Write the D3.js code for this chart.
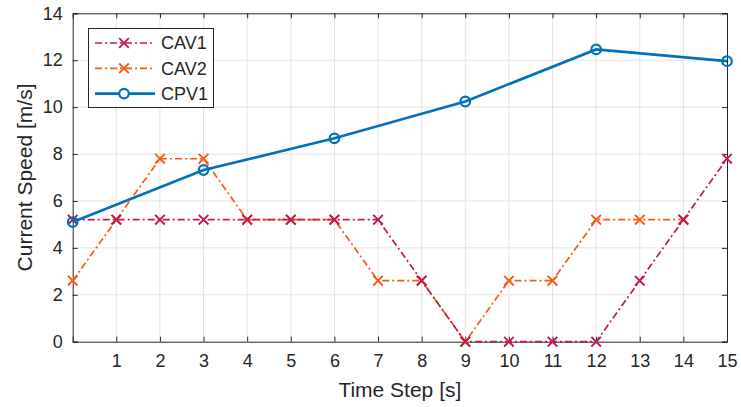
<!DOCTYPE html>
<html><head><meta charset="utf-8">
<script src="https://cdn.jsdelivr.net/npm/d3@7"></script>
<style>body{margin:0;background:#fff}svg{display:block}text{font-family:"Liberation Sans",Arial,sans-serif;fill:#262626}</style>
</head><body><svg id="c" width="741" height="407"></svg>
<script>
const steps = d3.range(0,16);
const xTicks = [1,2,3,4,5,6,7,8,9,10,11,12,13,14,15];
const yTicks = [0,2,4,6,8,10,12,14];
const cav1T = [0,1,2,3,4,5,6,7,8,9,10,11,12,13,14,15];
const cav1V = [5.2,5.2,5.2,5.2,5.2,5.2,5.2,5.2,2.6,0,0,0,0,2.6,5.2,7.8];
const cav2T = [0,1,2,3,4,5,6,7,8,9,10,11,12,13,14];
const cav2V = [2.6,5.2,7.8,7.8,5.2,5.2,5.2,2.6,2.6,0,2.6,2.6,5.2,5.2,5.2];
const cpv1T = [0,3,6,9,12,15];
const cpv1V = [5.1,7.32,8.67,10.24,12.46,11.96];
const seriesNames = ["CAV1","CAV2","CPV1"];

const svg = d3.select("#c");
const L=72.7,R=727,T=13.3,B=341.7;
const x = d3.scaleLinear().domain([0,15]).range([L,R]);
const y = d3.scaleLinear().domain([0,14]).range([B,T]);
const g = svg.append("g");
// grid
g.append("g").selectAll("line").data(steps.slice(1,15)).join("line")
 .attr("x1",d=>x(d)).attr("x2",d=>x(d)).attr("y1",T).attr("y2",B)
 .attr("stroke","#e3e3e3").attr("stroke-width",1);
g.append("g").selectAll("line").data(yTicks.slice(1,7)).join("line")
 .attr("y1",d=>y(d)).attr("y2",d=>y(d)).attr("x1",L).attr("x2",R)
 .attr("stroke","#e3e3e3").attr("stroke-width",1);
// axes
const ax = d3.axisBottom(x).tickValues(xTicks).tickSize(-5).tickPadding(13).tickFormat(d3.format("d"));
const axg = g.append("g").attr("transform",`translate(0,${B})`).call(ax);
const axt = g.append("g").attr("transform",`translate(0,${T})`).call(d3.axisTop(x).tickValues(xTicks).tickSize(-5).tickFormat(""));
const ay = d3.axisLeft(y).tickValues(yTicks).tickSize(-5).tickPadding(10).tickFormat(d3.format("d"));
const ayg = g.append("g").attr("transform",`translate(${L},0)`).call(ay);
const ayr = g.append("g").attr("transform",`translate(${R},0)`).call(d3.axisRight(y).tickValues(yTicks).tickSize(-5).tickFormat(""));
[axg,axt,ayg,ayr].forEach(a=>{
  a.select(".domain").attr("stroke","#262626").attr("stroke-width",1);
  a.selectAll(".tick line").attr("stroke","#262626");
  a.selectAll("text").style("font-size","18px").attr("fill","#262626");
});
axg.selectAll("text").attr("dy","0.71em");
g.append("text").attr("x",(L+R)/2).attr("y",397).attr("text-anchor","middle").style("font-size","21px").text("Time Step [s]");
g.append("text").attr("transform",`translate(32,${(T+B)/2}) rotate(-90)`).attr("text-anchor","middle").style("font-size","21px").text("Current Speed [m/s]");

const colors = ["#C21A4A","#FA5A14","#0072BD"];
function xMark(sel,c){
  sel.append("path").attr("d","M-4.8,-4.8L4.8,4.8M-4.8,4.8L4.8,-4.8").attr("stroke",c).attr("stroke-width",1.9).attr("fill","none");
}
const line = d3.line().x(d=>x(d[0])).y(d=>y(d[1]));
const dash = "7,3,2,3";
function drawCav(T_,V_,c){
  const pts = T_.map((t,i)=>[t,V_[i]]);
  g.append("path").attr("d",line(pts)).attr("fill","none").attr("stroke",c).attr("stroke-width",1.7).attr("stroke-dasharray",dash);
  pts.forEach(p=>{ const m=g.append("g").attr("transform",`translate(${x(p[0])},${y(p[1])})`); xMark(m,c); });
}
drawCav(cav2T,cav2V,colors[1]);
drawCav(cav1T,cav1V,colors[0]);
const cp = cpv1T.map((t,i)=>[t,cpv1V[i]]);
g.append("path").attr("d",line(cp)).attr("fill","none").attr("stroke",colors[2]).attr("stroke-width",2.6);
g.selectAll(".cpm").data(cp).join("circle").attr("cx",d=>x(d[0])).attr("cy",d=>y(d[1])).attr("r",4.8)
 .attr("fill","none").attr("stroke",colors[2]).attr("stroke-width",2.2);

// legend
const lg = g.append("g");
lg.append("rect").attr("x",88.5).attr("y",28.5).attr("width",125).attr("height",79).attr("fill","#fff").attr("stroke","#262626").attr("stroke-width",1);
seriesNames.forEach((n,i)=>{
  const yy = 43 + i*25.3;
  const c = colors[i];
  if(i<2){
    lg.append("line").attr("x1",95).attr("x2",155).attr("y1",yy).attr("y2",yy).attr("stroke",c).attr("stroke-width",1.7).attr("stroke-dasharray",dash);
    const m=lg.append("g").attr("transform",`translate(124,${yy})`); xMark(m,c);
  } else {
    lg.append("line").attr("x1",95).attr("x2",155).attr("y1",yy).attr("y2",yy).attr("stroke",c).attr("stroke-width",2.6);
    lg.append("circle").attr("cx",124).attr("cy",yy).attr("r",4.8).attr("fill","#fff").attr("stroke",c).attr("stroke-width",2.2);
  }
  lg.append("text").attr("x",161).attr("y",yy).attr("dy","0.36em").style("font-size","18px").text(n);
});
</script></body></html>
